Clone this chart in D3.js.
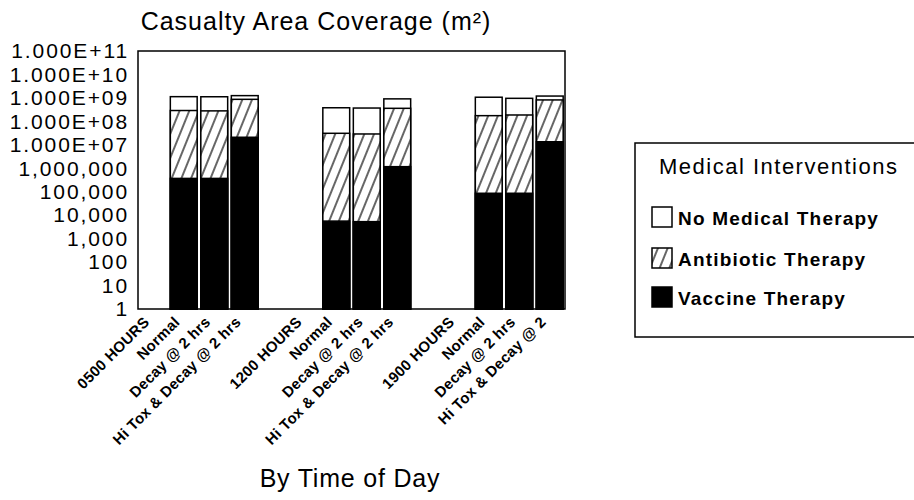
<!DOCTYPE html>
<html>
<head>
<meta charset="utf-8">
<script src="https://cdn.jsdelivr.net/npm/d3@7"></script>
<style>
  html, body { margin: 0; padding: 0; background: #fff; }
  svg { display: block; font-family: "Liberation Sans", Arial, Helvetica, sans-serif; }
</style>
</head>
<body>
<svg id="chart" width="914" height="500"></svg>
<script>
// ---- data ----
const categories = ["0500 HOURS", "Normal", "Decay @ 2 hrs", "Hi Tox & Decay @ 2 hrs", "",
                    "1200 HOURS", "Normal", "Decay @ 2 hrs", "Hi Tox & Decay @ 2 hrs", "",
                    "1900 HOURS", "Normal", "Decay @ 2 hrs", "Hi Tox & Decay @ 2"];
const noTherapy  = [null, 1.13e9, 1.12e9, 1.25e9, null, null, 3.8e8, 3.7e8, 9.1e8, null, null, 1.07e9, 9.6e8, 1.2e9];
const antibiotic = [null, 2.9e8, 2.8e8, 8.7e8, null, null, 3.1e7, 2.9e7, 3.6e8, null, null, 1.75e8, 1.87e8, 8.2e8];
const vaccine    = [null, 3.7e5, 3.7e5, 2.1e7, null, null, 5.6e3, 5.3e3, 1.17e6, null, null, 8.6e4, 8.6e4, 1.35e7];
const tickValues = [1, 10, 100, 1e3, 1e4, 1e5, 1e6, 1e7, 1e8, 1e9, 1e10, 1e11];
const tickLabels = ["1", "10", "100", "1,000", "10,000", "100,000", "1,000,000",
                    "1.000E+07", "1.000E+08", "1.000E+09", "1.000E+10", "1.000E+11"];
const seriesNames = ["No Medical Therapy", "Antibiotic Therapy", "Vaccine Therapy"];
const chartTitle = "Casualty Area Coverage (m²)";
const xTitle = "By Time of Day";
const legendTitle = "Medical Interventions";

// ---- layout ----
const svg = d3.select("#chart");
const plot = { left: 138, right: 565, top: 51, bottom: 309 };

const x = d3.scaleBand()
  .domain(d3.range(categories.length))
  .range([plot.left, plot.right])
  .paddingInner(0.12)
  .paddingOuter(0.06);

const y = d3.scaleLog()
  .domain([1, 1e11])
  .range([plot.bottom, plot.top]);

// hatch pattern
const defs = svg.append("defs");
defs.append("pattern")
  .attr("id", "hatch")
  .attr("patternUnits", "userSpaceOnUse")
  .attr("width", 9).attr("height", 9)
  .attr("patternTransform", "rotate(22)")
  .call(p => {
    p.append("rect").attr("width", 9).attr("height", 9).attr("fill", "#fff");
    p.append("line").attr("x1", 1).attr("y1", 0).attr("x2", 1).attr("y2", 9)
      .attr("stroke", "#000").attr("stroke-width", 1.2);
  });

const fills = ["#fff", "url(#hatch)", "#000"];
const series = [noTherapy, antibiotic, vaccine];

// bars (overlaid, largest first)
series.forEach((vals, si) => {
  svg.append("g").selectAll("rect")
    .data(vals.map((v, i) => ({ v, i })).filter(d => d.v != null))
    .join("rect")
    .attr("x", d => x(d.i))
    .attr("width", x.bandwidth())
    .attr("y", d => y(d.v))
    .attr("height", d => y(1) - y(d.v))
    .attr("fill", fills[si])
    .attr("stroke", "#000")
    .attr("stroke-width", 1.5);
});

// frame
svg.append("rect")
  .attr("x", plot.left).attr("y", plot.top)
  .attr("width", plot.right - plot.left).attr("height", plot.bottom - plot.top)
  .attr("fill", "none").attr("stroke", "#000").attr("stroke-width", 1.5);

// y axis
const yAxis = svg.append("g")
  .attr("transform", `translate(${plot.left},0)`)
  .call(d3.axisLeft(y).tickValues(tickValues)
    .tickFormat((d, i) => tickLabels[i]).tickSize(0).tickPadding(9));
yAxis.select(".domain").remove();
yAxis.selectAll("text")
  .attr("font-size", 21)
  .attr("letter-spacing", 1.9)
  .attr("fill", "#000")
  .attr("font-family", "Liberation Sans, Arial, sans-serif");

// x axis
const xAxis = svg.append("g")
  .attr("transform", `translate(0,${plot.bottom})`)
  .call(d3.axisBottom(x).tickFormat(i => categories[i]).tickSize(0));
xAxis.select(".domain").remove();
xAxis.selectAll("text")
  .attr("x", 0).attr("y", 0).attr("dy", 0)
  .attr("transform", "translate(-3,14) rotate(-45)")
  .attr("text-anchor", "end")
  .attr("font-size", 15)
  .attr("font-weight", "bold")
  .attr("letter-spacing", 0.3)
  .attr("fill", "#000")
  .attr("font-family", "Liberation Sans, Arial, sans-serif");

// titles
svg.append("text")
  .attr("x", 316).attr("y", 30)
  .attr("text-anchor", "middle")
  .attr("font-size", 25).attr("letter-spacing", 1)
  .text(chartTitle);

svg.append("text")
  .attr("x", 350).attr("y", 487)
  .attr("text-anchor", "middle")
  .attr("font-size", 25).attr("letter-spacing", 0.8)
  .text(xTitle);

// legend
const lg = svg.append("g");
lg.append("rect")
  .attr("x", 635).attr("y", 143).attr("width", 300).attr("height", 194)
  .attr("fill", "#fff").attr("stroke", "#000").attr("stroke-width", 1.5);
lg.append("text")
  .attr("x", 659).attr("y", 174)
  .attr("font-size", 22).attr("letter-spacing", 1.5)
  .text(legendTitle);
const itemY = [217, 258, 297];
seriesNames.forEach((name, i) => {
  lg.append("rect")
    .attr("x", 652).attr("y", itemY[i] - 10).attr("width", 20).attr("height", 20)
    .attr("fill", fills[i]).attr("stroke", "#000").attr("stroke-width", 1.5);
  lg.append("text")
    .attr("x", 678).attr("y", itemY[i] + 8)
    .attr("font-size", 19).attr("font-weight", "bold").attr("letter-spacing", 1.2)
    .text(name);
});
</script>
</body>
</html>
